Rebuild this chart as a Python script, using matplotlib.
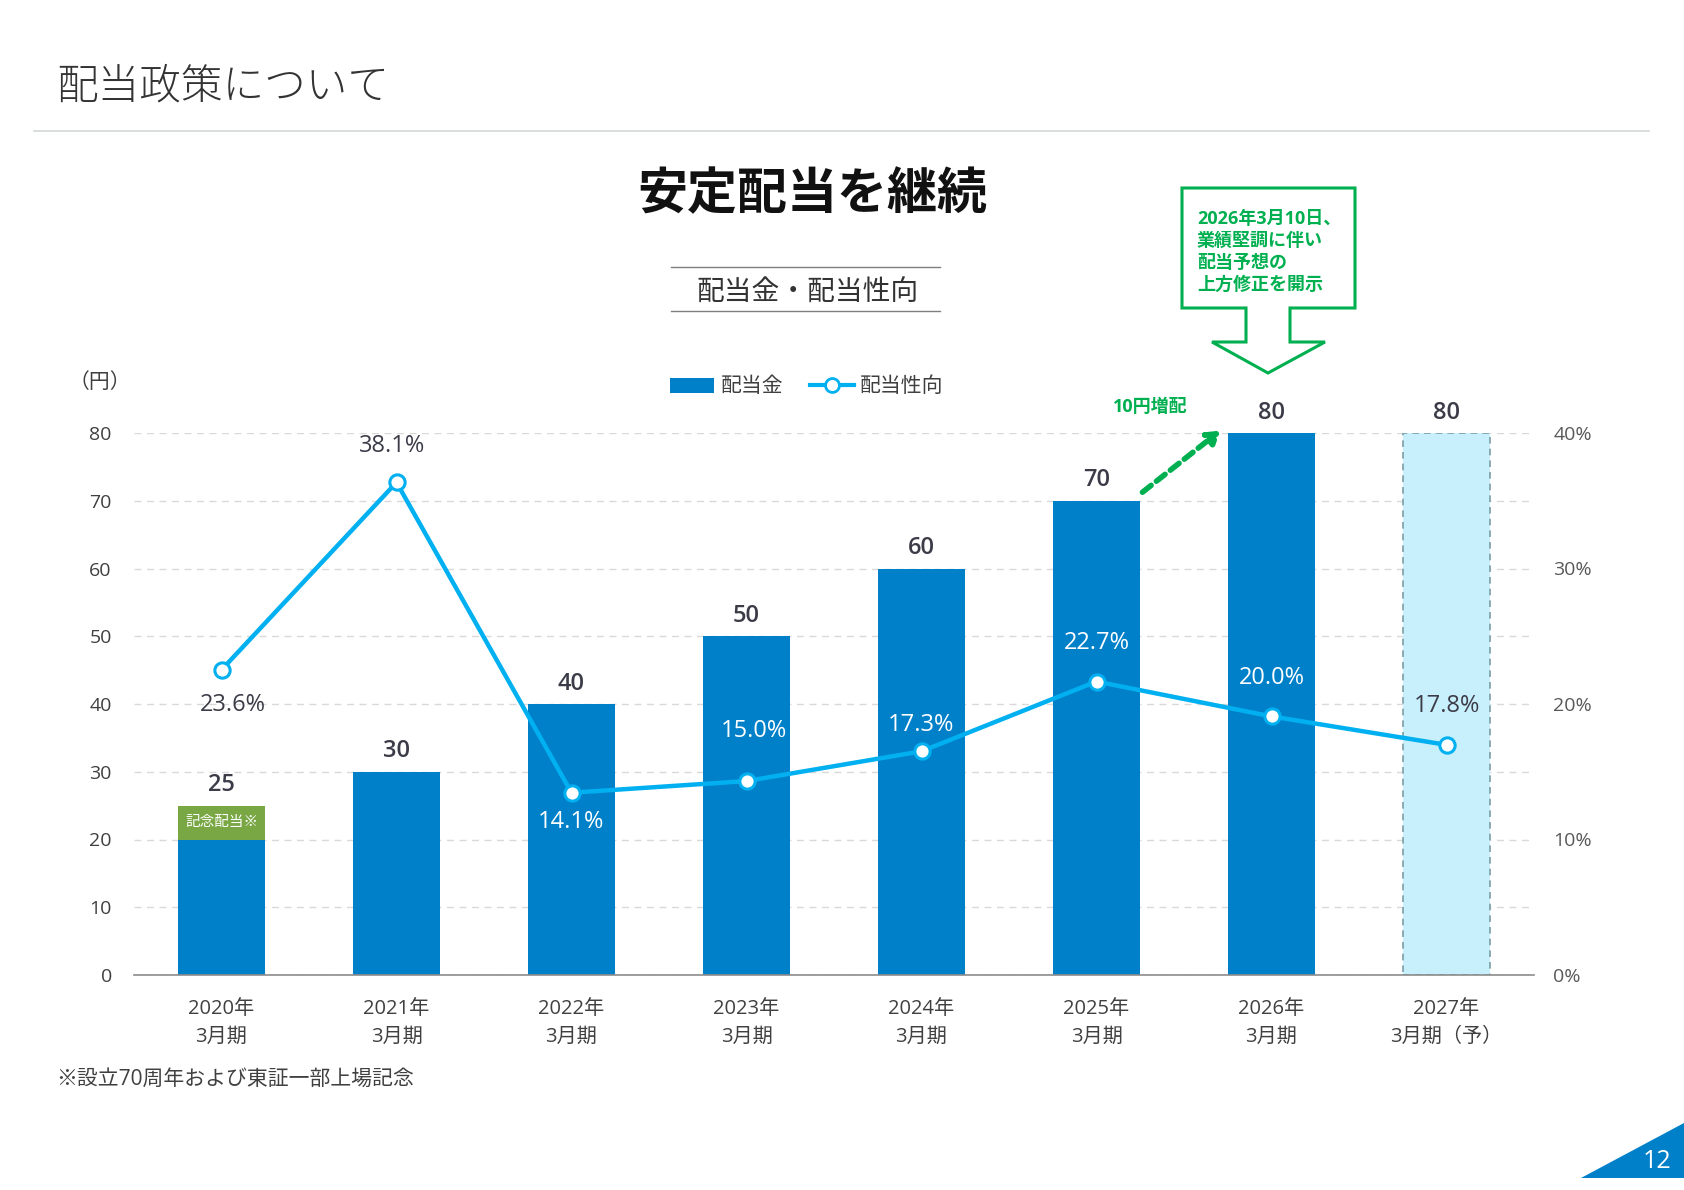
import numpy as np
import matplotlib.pyplot as plt
from matplotlib.patches import Polygon, Patch
from matplotlib.lines import Line2D

plt.rcParams['font.family'] = ['Open Sans', 'Noto Sans CJK JP', 'DejaVu Sans']

# data
periods = ['2020年\n3月期', '2021年\n3月期', '2022年\n3月期', '2023年\n3月期',
           '2024年\n3月期', '2025年\n3月期', '2026年\n3月期', '2027年\n3月期（予）']
dividend = [25, 30, 40, 50, 60, 70, 80, 80]
memorial = [5, 0, 0, 0, 0, 0, 0, 0]
payout = [23.6, 38.1, 14.1, 15.0, 17.3, 22.7, 20.0, 17.8]
is_forecast = [False, False, False, False, False, False, False, True]
yen_ticks = [0, 10, 20, 30, 40, 50, 60, 70, 80]
pct_ticks = [0, 10, 20, 30, 40]

# colours
BLUE = '#0080c9'
CYAN = '#00b0f0'
LIGHT = '#c8effc'
GREEN = '#00b050'
MEMO = '#78a744'
DARK = '#3c3c48'
GRAY = '#404040'

W, H = 1684, 1190
fig = plt.figure(figsize=(W / 100, H / 100), dpi=100, facecolor='white')


def fx(px):
    return px / W


def fy(py):
    return 1 - py / H


ax = fig.add_axes([fx(134), fy(975), fx(1534) - fx(134), fy(433) - fy(975)])
x = np.arange(len(periods))
base = np.array(dividend) - np.array(memorial)

for i in x:
    if is_forecast[i]:
        ax.bar(i, dividend[i], width=0.5, color=LIGHT, edgecolor='#7a9ea6',
               linewidth=1.2, linestyle=(0, (4, 3)), zorder=2)
    else:
        ax.bar(i, base[i], width=0.5, color=BLUE, zorder=2)
        if memorial[i] > 0:
            ax.bar(i, memorial[i], bottom=base[i], width=0.5, color=MEMO, zorder=2)
            ax.text(i, base[i] + memorial[i] / 2, '記念配当※', color='white',
                    fontsize=10.5, ha='center', va='center', zorder=3)
    ax.annotate(str(dividend[i]), (i, dividend[i]), xytext=(0, 6),
                textcoords='offset points', ha='center', va='bottom',
                fontsize=17, color=DARK, fontweight='semibold', annotation_clip=False)

ax.set_xlim(-0.5, len(periods) - 0.5)
ax.set_ylim(0, 80)
ax.set_yticks(yen_ticks)
ax.set_xticks(x)
ax.set_xticklabels(periods, fontsize=14.5, color=GRAY)
for lbl in ax.get_xticklabels():
    lbl.set_linespacing(1.55)
ax.tick_params(axis='y', length=0, pad=16, labelsize=14, labelcolor=GRAY)
ax.tick_params(axis='x', length=0, pad=17)
ax.grid(axis='y', color='#d9d9d9', linestyle=(0, (5, 4)), linewidth=1)
ax.set_axisbelow(True)
for s in ['top', 'right', 'left']:
    ax.spines[s].set_visible(False)
ax.spines['bottom'].set_color('#8c8c8c')
ax.spines['bottom'].set_linewidth(1.2)

# payout ratio on secondary axis
k = 0.524
ax2 = ax.twinx()
ax2.set_ylim(0, 80 * k)
ax2.set_yticks([p * 2 * k for p in pct_ticks])
ax2.set_yticklabels([f'{p}%' for p in pct_ticks])
ax2.tick_params(axis='y', length=0, pad=14, labelsize=14, labelcolor='#595959')
for s in ax2.spines.values():
    s.set_visible(False)
ax2.plot(x, payout, color=CYAN, linewidth=3.2, marker='o', markersize=11,
         markerfacecolor='white', markeredgecolor=CYAN, markeredgewidth=2.2, zorder=5)

pct_offsets = [(8, -25), (-3, 26), (0, -21), (5, 36), (0, 19), (0, 28), (0, 28), (0, 28)]
pct_colors = [DARK, DARK, 'white', 'white', 'white', 'white', 'white', DARK]
for i, p in enumerate(payout):
    ax2.annotate(f'{p:.1f}%', (i, p), xytext=pct_offsets[i], textcoords='offset points',
                 ha='center', va='center', fontsize=17, color=pct_colors[i], zorder=6)

# 10円増配 arrow
ax.annotate('', xy=(5.72, 80.6), xytext=(5.25, 71),
            arrowprops=dict(arrowstyle='-|>,head_length=0.7,head_width=0.45',
                            color=GREEN, lw=4, linestyle=(0, (2, 1.2))),
            annotation_clip=False)
ax.text(5.31, 83.8, '10円増配', color=GREEN, fontsize=13, fontweight='bold',
        ha='center', va='center', clip_on=False)

# header
fig.text(fx(56), fy(87), '配当政策について', fontsize=30, color='#333333',
         ha='left', va='center', fontweight='light')
fig.add_artist(Line2D([fx(34), fx(1649)], [fy(131), fy(131)], color='#d3d7d7', lw=1.2))
fig.text(fx(812), fy(196), '安定配当を継続', fontsize=36, fontweight='bold',
         color='#111111', ha='center', va='center')
fig.text(fx(808), fy(294), '配当金・配当性向', fontsize=20, color='#333333',
         ha='center', va='center')
for yy in (267, 311):
    fig.add_artist(Line2D([fx(671), fx(940)], [fy(yy), fy(yy)], color='#7f7f7f', lw=1))
fig.text(fx(100), fy(383), '（円）', fontsize=15, color=GRAY, ha='center', va='center')

# legend
handles = [Patch(facecolor=BLUE, edgecolor='none'),
           Line2D([], [], color=CYAN, lw=3, marker='o', markersize=10,
                  markerfacecolor='white', markeredgecolor=CYAN, markeredgewidth=2)]
fig.legend(handles, ['配当金', '配当性向'], loc='center', ncol=2, frameon=False,
           bbox_to_anchor=(fx(807), fy(387)), fontsize=15, handlelength=2.1,
           handletextpad=0.3, columnspacing=1.3, labelcolor=GRAY)

# callout box
pts = [(1182, 188), (1355, 188), (1355, 308), (1290, 308), (1290, 342), (1325, 342),
       (1268, 373), (1212, 342), (1246, 342), (1246, 308), (1182, 308)]
fig.add_artist(Polygon([(fx(a), fy(b)) for a, b in pts], closed=True, facecolor='white',
                       edgecolor=GREEN, lw=2.2, transform=fig.transFigure))
fig.text(fx(1197), fy(252), '2026年3月10日、\n業績堅調に伴い\n配当予想の\n上方修正を開示',
         fontsize=13, fontweight='bold', color=GREEN, ha='left', va='center',
         linespacing=1.3)

# footnote
fig.text(fx(56), fy(1079), '※設立70周年および東証一部上場記念', fontsize=15,
         color=GRAY, ha='left', va='center')

# page number
fig.add_artist(Polygon([(fx(1581), fy(1178)), (fx(1684), fy(1123)), (fx(1684), fy(1178))],
                       closed=True, facecolor=BLUE, edgecolor='none',
                       transform=fig.transFigure))
fig.text(fx(1657), fy(1161), '12', fontsize=18, color='white', ha='center', va='center')

fig.savefig('out.png', dpi=100, facecolor='white')
